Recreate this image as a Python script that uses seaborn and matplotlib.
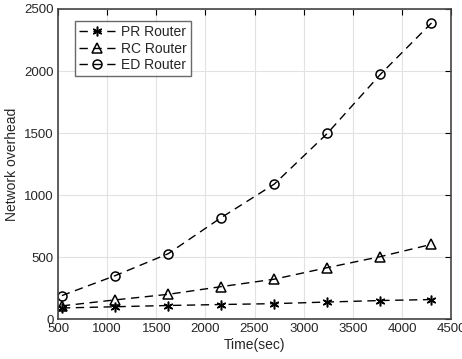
import numpy as np
import pandas as pd
import matplotlib
matplotlib.use("Agg")
import matplotlib.pyplot as plt
import seaborn as sns

# ── Data ──────────────────────────────────────────────────────
time_sec = [540, 1080, 1620, 2160, 2700, 3240, 3780, 4300]
pr_router = [90, 100, 110, 118, 125, 138, 150, 158]
rc_router = [107, 155, 200, 262, 322, 415, 504, 603]
ed_router = [190, 350, 527, 818, 1088, 1497, 1973, 2387]

series = {"PR Router": pr_router, "RC Router": rc_router, "ED Router": ed_router}
markers = {"PR Router": (6, 2, 0), "RC Router": "^", "ED Router": "o"}

sns.set_style("whitegrid")
plt.rcParams["font.family"] = ["Liberation Sans", "DejaVu Sans"]

fig = plt.figure(figsize=(4.62, 3.59), dpi=100)
ax = fig.add_axes([0.1255, 0.111, 0.851, 0.864])

for name, vals in series.items():
    df = pd.DataFrame({"t": time_sec, "v": vals})
    sns.lineplot(data=df, x="t", y="v", ax=ax, color="black", linestyle=(0, (6, 4)),
                 linewidth=1.0, marker=markers[name], markersize=7 if name == "PR Router" else 6.5,
                 markerfacecolor="none", markeredgecolor="black", markeredgewidth=1.1,
                 label=name)

ax.set_xlim(500, 4500)
ax.set_ylim(0, 2500)
ax.set_xticks(np.arange(500, 4501, 500))
ax.set_yticks(np.arange(0, 2501, 500))
ax.set_xlabel("Time(sec)", fontsize=10, labelpad=2)
ax.set_ylabel("Network overhead", fontsize=10, labelpad=4)
ax.tick_params(axis="both", direction="in", length=4, labelsize=9.5, color="black",
               top=True, right=True, pad=3)
ax.grid(True, color="#e2e2e2", linewidth=0.8)
for sp in ax.spines.values():
    sp.set_color("#444444")
    sp.set_linewidth(1.2)

leg = ax.legend(loc="upper left", bbox_to_anchor=(0.025, 0.985), fontsize=10,
                frameon=True, fancybox=False, edgecolor="#444444", handlelength=2.6,
                borderpad=0.3, labelspacing=0.2, handletextpad=0.4)
leg.get_frame().set_linewidth(1.0)

plt.savefig("out.png", dpi=100)
plt.close()
